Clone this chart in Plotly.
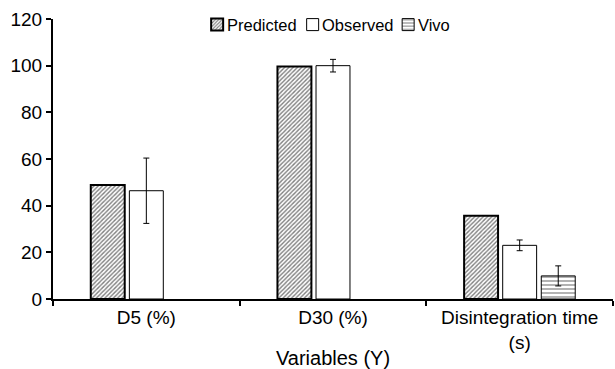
import plotly.graph_objects as go

categories = ["D5 (%)", "D30 (%)", "Disintegration time<br>(s)"]
series_names = ["Predicted", "Observed", "Vivo"]
predicted = [48.9, 99.6, 35.7]
observed = [46.4, 100.0, 23.0]
observed_err = [14.0, 2.7, 2.3]
vivo = [None, None, 9.9]
vivo_err = [0, 0, 4.3]

font = "Liberation Sans, Arial, sans-serif"

fig = go.Figure()
fig.add_trace(go.Bar(
    name="", x=categories, y=predicted,
    hovertemplate=series_names[0] + ": %{y}<extra></extra>",
    marker=dict(color="white", line=dict(color="black", width=2),
                pattern=dict(shape="/", fgcolor="black", bgcolor="white", size=3, solidity=0.45)),
))
fig.add_trace(go.Bar(
    name="", x=categories, y=observed,
    hovertemplate=series_names[1] + ": %{y}<extra></extra>",
    marker=dict(color="white", line=dict(color="black", width=1)),
    error_y=dict(type="data", array=observed_err, color="black", thickness=1, width=3),
))
fig.add_trace(go.Bar(
    name="", x=categories, y=vivo,
    hovertemplate=series_names[2] + ": %{y}<extra></extra>",
    marker=dict(color="white", line=dict(color="black", width=1),
                pattern=dict(shape="-", fgcolor="black", bgcolor="white", size=4, solidity=0.3)),
    error_y=dict(type="data", array=vivo_err, color="black", thickness=1, width=3),
))

# legend symbols come from plotly's legend; labels are drawn right next to them
label_x = [0.307, 0.477, 0.648]
for name, lx in zip(series_names, label_x):
    fig.add_annotation(text=name, x=lx, y=0.979, xref="paper", yref="paper",
                       xanchor="left", yanchor="middle", showarrow=False,
                       font=dict(size=16.5, color="black"))

fig.update_layout(
    width=615, height=369,
    margin=dict(l=53, r=2, t=19, b=70),
    paper_bgcolor="white", plot_bgcolor="white",
    font=dict(family=font, size=19, color="black"),
    barmode="group", bargap=0.38, bargroupgap=0.12,
    showlegend=True,
    legend=dict(orientation="h", x=0.2574, y=0.979, xanchor="left", yanchor="middle",
                font=dict(size=16.5), bgcolor="rgba(0,0,0,0)",
                itemwidth=30, entrywidth=50.5, tracegroupgap=0),
    xaxis=dict(showline=True, linecolor="black", linewidth=2, ticks="outside",
               tickson="boundaries", ticklen=5, tickcolor="black", tickwidth=2,
               title=dict(text="Variables (Y)", font=dict(size=20), standoff=2),
               tickfont=dict(size=19), automargin=False),
    yaxis=dict(range=[0, 120], dtick=20, showline=True, linecolor="black", linewidth=2,
               ticks="outside", ticklen=5, tickcolor="black", tickwidth=2,
               showgrid=False, zeroline=False, tickfont=dict(size=19), automargin=False),
)

fig.write_html("out.html")
